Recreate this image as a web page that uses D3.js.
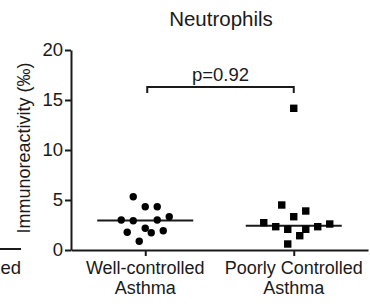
<!DOCTYPE html>
<html>
<head>
<meta charset="utf-8">
<script src="https://cdn.jsdelivr.net/npm/d3@7"></script>
<style>
  body { margin: 0; background: #fff; }
  svg { display: block; font-family: "Liberation Sans", Arial, sans-serif; }
</style>
</head>
<body>
<svg id="chart" width="370" height="304"></svg>
<script>
// data
const categories = ["Well-controlled", "Poorly Controlled"];
const wellValues = [5.33, 4.33, 4.33, 3.0, 2.93, 3.0, 3.33, 1.77, 2.17, 1.73, 1.93, 0.87];
const wellSlots = [-2, 0, 2, -4, -2, 2, 4, -3, 0, 1, 3, -1];
const poorValues = [14.17, 4.5, 3.9, 3.33, 2.73, 2.33, 2.07, 2.07, 2.33, 2.6, 1.43, 0.6];
const poorSlots = [0, -2, 2, 0, -5, -3, -1, 2, 4, 6, 1, -1];
const medians = [2.95, 2.43];
const yTicks = [0, 5, 10, 15, 20];
const pLabel = "p=0.92";
const bracketLevel = 16.3;

const svg = d3.select("#chart");
const ink = "#1a1a1a";

const y = d3.scaleLinear().domain([0, 20]).range([250, 50]);
const x = d3.scalePoint().domain(categories).range([71, 368]).padding(0.5);
const slot = d3.scaleLinear().domain([0, 1]).range([0, 6]);

// neighbouring panel fragment at the left edge
svg.append("line")
    .attr("x1", -5).attr("x2", 21)
    .attr("y1", 249).attr("y2", 249)
    .attr("stroke", ink).attr("stroke-width", 2);
svg.append("text")
    .attr("x", 21).attr("y", 274)
    .attr("text-anchor", "end")
    .attr("font-size", "18.5px")
    .attr("fill", ink)
    .text("ed");

// title
svg.append("text")
    .attr("x", 221).attr("y", 26)
    .attr("text-anchor", "middle")
    .attr("font-size", "20.5px")
    .attr("fill", ink)
    .text("Neutrophils");

// y axis
const yAxis = svg.append("g")
    .attr("transform", "translate(71,0)")
    .call(d3.axisLeft(y).tickValues(yTicks).tickSize(6).tickSizeOuter(0).tickPadding(2));
yAxis.selectAll("path, line").attr("stroke", ink).attr("stroke-width", 2);
yAxis.selectAll("text").attr("font-size", "18.5px").attr("fill", ink).attr("font-family", null);

svg.append("text")
    .attr("transform", "translate(30,148) rotate(-90)")
    .attr("text-anchor", "middle")
    .attr("font-size", "18px")
    .attr("fill", ink)
    .text("Immunoreactivity (‰)");

// x axis
const xAxis = svg.append("g")
    .attr("transform", "translate(0,250)")
    .call(d3.axisBottom(x).tickSize(6).tickSizeOuter(0).tickFormat(""));
xAxis.selectAll("path, line").attr("stroke", ink).attr("stroke-width", 2);

categories.forEach(c => {
    const t = svg.append("text")
        .attr("text-anchor", "middle")
        .attr("font-size", "18px")
        .attr("fill", ink);
    t.append("tspan").attr("x", x(c)).attr("y", 274).text(c);
    t.append("tspan").attr("x", x(c)).attr("y", 294).text("Asthma");
});

// median lines
svg.selectAll(".median")
    .data(medians)
    .join("line")
    .attr("class", "median")
    .attr("x1", (d, i) => x(categories[i]) - slot(8))
    .attr("x2", (d, i) => x(categories[i]) + slot(8))
    .attr("y1", d => y(d)).attr("y2", d => y(d))
    .attr("stroke", ink).attr("stroke-width", 2);

// circles for well-controlled
svg.selectAll(".well")
    .data(wellValues)
    .join("circle")
    .attr("class", "well")
    .attr("cx", (d, i) => x(categories[0]) + slot(wellSlots[i]))
    .attr("cy", d => y(d))
    .attr("r", 3.7)
    .attr("fill", "#000");

// squares for poorly controlled
const sq = 7.4;
svg.selectAll(".poor")
    .data(poorValues)
    .join("rect")
    .attr("class", "poor")
    .attr("x", (d, i) => x(categories[1]) + slot(poorSlots[i]) - sq / 2)
    .attr("y", d => y(d) - sq / 2)
    .attr("width", sq).attr("height", sq)
    .attr("fill", "#000");

// significance bracket
const bx1 = x(categories[0]) + 2, bx2 = x(categories[1]);
const by = y(bracketLevel);
svg.append("path")
    .attr("d", `M${bx1},${by + 6}V${by}H${bx2}V${by + 6}`)
    .attr("fill", "none")
    .attr("stroke", ink).attr("stroke-width", 2);
svg.append("text")
    .attr("x", (bx1 + bx2) / 2).attr("y", by - 6)
    .attr("text-anchor", "middle")
    .attr("font-size", "18.5px")
    .attr("fill", ink)
    .text(pLabel);
</script>
</body>
</html>
